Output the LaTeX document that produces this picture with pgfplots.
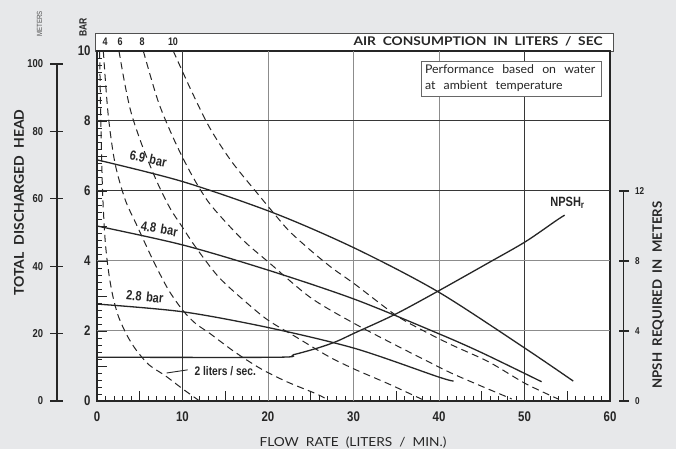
\documentclass[border=0pt]{standalone}
\usepackage{pgfplots}
\pgfplotsset{compat=1.18}
\usepackage{pgfplotstable}
\usepackage{fontspec}
\setmainfont{Liberation Sans}
\newfontfamily\cond[FakeStretch=0.82]{Liberation Sans}
\newfontfamily\gill{Lato}
\definecolor{bg}{RGB}{231,232,234}
\definecolor{ink}{RGB}{38,38,38}
\definecolor{gridd}{RGB}{55,55,55}
\definecolor{gridl}{RGB}{140,140,140}

% air consumption curves (flow LPM, head bar)
\pgfplotstableread{
F B
0.30 10
0.45 8.0
0.65 6.0
0.95 4.6
1.35 3.7
1.85 3.0
2.5 2.42
3.5 1.88
4.6 1.45
6.1 1.03
8.0 0.72
10.0 0.35
12.0 0.0
}\pTwo
\pgfplotstableread{
F B
0.74 10
1.3 8.2
2.1 6.8
3.3 5.75
4.6 5.05
6.5 4.05
8.3 3.2
10.0 2.6
11.5 2.22
13.2 1.93
16.0 1.42
19.1 0.93
22.2 0.55
25.7 0.2
27.0 0.03
}\pFour
\pgfplotstableread{
F B
2.57 10
3.3 9.0
4.06 8.18
5.4 7.22
7.0 6.27
8.54 5.51
9.9 5.0
11.5 4.41
14.2 3.55
17.3 2.85
20.0 2.31
23.2 1.84
27.1 1.27
30.2 0.9
34.0 0.5
38.0 0.05
}\pSix
\pgfplotstableread{
F B
5.42 10
7.17 8.55
9.12 7.41
11.08 6.46
13.02 5.69
15.36 5.03
17.5 4.5
20.0 3.98
25.0 2.95
30.2 2.2
34.9 1.6
39.1 1.08
41.5 0.79
45.0 0.42
48.5 0.06
}\pEight
\pgfplotstableread{
F B
8.92 10
11.08 8.84
13.22 7.79
15.75 6.84
18.9 5.89
20.8 5.33
22.5 4.85
25.0 4.3
27.5 3.8
30.2 3.33
34.9 2.46
38.0 2.03
41.5 1.6
45.8 1.12
50.1 0.5
54.0 0.05
}\pTen
% performance curves at constant air pressure
\pgfplotstableread{
F B
0 6.89
10 6.27
20.8 5.36
30.2 4.36
39.9 3.12
50.1 1.5
55.7 0.57
}\pSixNine
\pgfplotstableread{
F B
0 5.0
10 4.46
20 3.74
30.2 2.9
39.9 1.93
45.0 1.38
52.0 0.55
}\pFourEight
\pgfplotstableread{
F B
0 2.77
10 2.55
20 2.1
30.2 1.5
39.9 0.69
41.7 0.57
}\pTwoEight
% NPSH required (meters)
\pgfplotstableread{
F M
0 2.5
21 2.5
23 2.65
25.9 3.04
28 3.4
30.2 3.9
34.9 4.96
39.9 6.28
45.8 7.9
50.1 9.1
53.8 10.34
54.7 10.62
}\pNPSH

\begin{document}
\begin{tikzpicture}[x=1bp,y=1bp]
\fill[bg] (-97bp,-48bp) rectangle (579bp,401bp);
% top strip
\draw[ink!80, line width=0.8bp, fill=white] (-1.3bp,350bp) rectangle (516bp,368bp);

% main axis
\begin{axis}[
  at={(0bp,0bp)}, anchor=south west,
  scale only axis, width=513bp, height=350bp,
  xmin=0, xmax=60, ymin=0, ymax=10,
  axis background/.style={fill=white},
  axis line style={ink, line width=2.7bp},
  xtick={0,5,...,60}, xticklabels={0,,10,,20,,30,,40,,50,,60},
  ytick={0,1,...,10}, yticklabels={0,,2,,4,,6,,8,,10},
  minor x tick num=4, minor y tick num=4,
  tick pos=left, tick align=inside,
  major tick length=10bp, minor tick length=4.5bp,
  every tick/.style={ink, line width=0.8bp},
  ticklabel style={font=\cond\bfseries\fontsize{14}{14}\selectfont, text=ink},
  xticklabel style={yshift=-7bp},
  yticklabel style={xshift=-3bp},
  clip=false,
]
% grid
\draw[gridd, line width=1bp] (axis cs:10,0) -- (axis cs:10,10);
\draw[gridl, line width=1bp] (axis cs:20,0) -- (axis cs:20,10);
\draw[gridl, line width=1bp] (axis cs:30,0) -- (axis cs:30,10);
\draw[gridl, line width=1bp] (axis cs:40,0) -- (axis cs:40,10);
\draw[gridd, line width=1bp] (axis cs:50,0) -- (axis cs:50,10);
\draw[gridl, line width=1bp] (axis cs:0,2) -- (axis cs:60,2);
\draw[gridl, line width=1bp] (axis cs:0,4) -- (axis cs:60,4);
\draw[gridd, line width=1bp] (axis cs:0,6) -- (axis cs:60,6);
\draw[gridd, line width=1bp] (axis cs:0,8) -- (axis cs:60,8);

\pgfplotsset{airc/.style={ink, line width=1bp, dash pattern=on 7bp off 4.5bp, smooth, no markers}}
\addplot[airc] table[x=F,y=B] {\pTwo};
\addplot[airc] table[x=F,y=B] {\pFour};
\addplot[airc] table[x=F,y=B] {\pSix};
\addplot[airc] table[x=F,y=B] {\pEight};
\addplot[airc] table[x=F,y=B] {\pTen};
\pgfplotsset{perf/.style={ink, line width=1.3bp, smooth, no markers}}
\addplot[perf] table[x=F,y=B] {\pSixNine};
\addplot[perf] table[x=F,y=B] {\pFourEight};
\addplot[perf] table[x=F,y=B] {\pTwoEight};

\node[rotate=-12, text=ink, font=\cond\bfseries\fontsize{13.5}{13.5}\selectfont] at (axis cs:6.0,6.92) {6.9\hspace{0.35em}bar};
\node[rotate=-10, text=ink, font=\cond\bfseries\fontsize{13.5}{13.5}\selectfont] at (axis cs:7.3,4.92) {4.8\hspace{0.35em}bar};
\node[rotate=-6, text=ink, font=\cond\bfseries\fontsize{13.5}{13.5}\selectfont] at (axis cs:5.6,2.98) {2.8\hspace{0.35em}bar};
\node[text=ink, font=\cond\bfseries\fontsize{12.5}{12.5}\selectfont] at (axis cs:15.0,0.86) {2 liters / sec.};
\draw[ink, line width=0.9bp] (axis cs:8.15,0.8) -- (axis cs:10.6,0.89);
\node[text=ink, font=\cond\bfseries\fontsize{13.5}{13.5}\selectfont] at (axis cs:55.0,5.66) {NPSH\raisebox{-0.35ex}{\fontsize{10}{10}\selectfont r}};
\end{axis}

% NPSH curve on its own scale (0-20 m over the plot height)
\begin{axis}[
  at={(0bp,0bp)}, anchor=south west,
  scale only axis, width=513bp, height=350bp,
  xmin=0, xmax=60, ymin=0, ymax=20, hide axis,
]
\addplot[ink, line width=1.3bp, smooth, no markers] table[x=F,y=M] {\pNPSH};
\end{axis}

% meters axis (left)
\begin{axis}[
  at={(-40bp,0bp)}, anchor=south west,
  scale only axis, width=10bp, height=337bp,
  xmin=0, xmax=1, ymin=0, ymax=100,
  hide x axis, axis y line*=left,
  axis line style={ink, line width=1.2bp, -},
  ytick={0,20,...,100}, tick align=center, major tick length=13bp,
  every tick/.style={ink, line width=1.2bp},
  /pgf/number format/assume math mode=true,
  yticklabel style={font=\cond\bfseries\fontsize{11.5}{11.5}\selectfont, text=ink, xshift=-4bp},
]
\end{axis}

% NPSH axis (right)
\begin{axis}[
  at={(526.5bp,0bp)}, anchor=south east,
  scale only axis, width=10bp, height=210bp,
  xmin=0, xmax=1, ymin=0, ymax=12,
  hide x axis, axis y line*=right,
  axis line style={ink, line width=1.2bp, -},
  ytick={0,4,8,12}, tick align=center, major tick length=10bp,
  every tick/.style={ink, line width=1.2bp},
  /pgf/number format/assume math mode=true,
  yticklabel style={font=\cond\bfseries\fontsize{10}{10}\selectfont, text=ink, xshift=3bp},
]
\end{axis}

% strip texts
\begin{scope}[font=\cond\bfseries\fontsize{11}{11}\selectfont, text=ink]
\node at (8bp,359bp) {4};
\node at (23bp,359bp) {6};
\node at (45bp,359bp) {8};
\node at (76bp,359bp) {10};
\end{scope}
\node[anchor=east, text=ink, font=\gill\bfseries\fontsize{12}{12}\selectfont] at (509bp,359.5bp) {\scalebox{1.15}[1]{AIR\ \ CONSUMPTION\ \ IN\ \ LITERS\ \ /\ \ SEC}};

% note box
\node[draw=ink!70, line width=0.7bp, fill=white, anchor=north west, text width=172bp, inner xsep=4bp, inner ysep=3bp,
  minimum height=35bp, align=left, text=ink, font=\gill\fontsize{12}{16}\selectfont] at (323.7bp,340.3bp)
  {\scalebox{1.03}[1]{Performance\ \ based\ \ on\ \ water}\\ \scalebox{1.03}[1]{at\ \ ambient\ \ temperature}};

% axis titles
\node[text=ink, font=\gill\fontsize{12.5}{12.5}\selectfont] at (256bp,-41.5bp) {\scalebox{1.1}[1]{FLOW\ \ RATE\ \ (LITERS\ \ /\ \ MIN.)}};
\node[rotate=90, text=ink, font=\gill\bfseries\fontsize{13.5}{13.5}\selectfont] at (-78bp,198.5bp) {\scalebox{1.04}[1]{TOTAL\ \ DISCHARGED\ \ HEAD}};
\node[rotate=90, text=ink, font=\gill\bfseries\fontsize{13}{13}\selectfont] at (561bp,106bp) {\scalebox{1.02}[1]{NPSH\ \ REQUIRED\ \ IN\ \ METERS}};
\node[rotate=90, text=ink!80, font=\cond\fontsize{7.5}{7.5}\selectfont] at (-57.5bp,377bp) {METERS};
\node[rotate=90, text=ink, font=\cond\bfseries\fontsize{10.5}{10.5}\selectfont] at (-14bp,373.5bp) {BAR};
\end{tikzpicture}
\end{document}
